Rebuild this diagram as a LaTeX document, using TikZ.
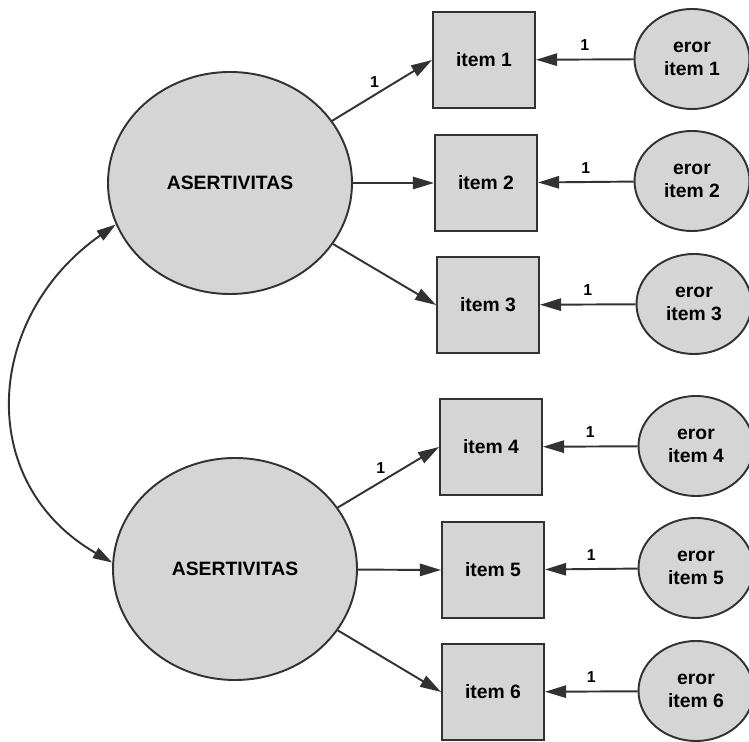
\documentclass[tikz,border=0pt]{standalone}
\usepackage{fontspec}
\setmainfont{Liberation Sans}
\usetikzlibrary{arrows.meta,shapes.geometric}
\definecolor{nodefill}{RGB}{213,213,213}
\definecolor{linecol}{RGB}{50,50,50}
\tikzset{
  latent/.style={ellipse,draw=linecol,fill=nodefill,line width=1.1pt,minimum width=4.88cm,minimum height=4.44cm,font=\bfseries\fontsize{11}{13}\selectfont},
  itembox/.style={rectangle,draw=linecol,fill=nodefill,line width=1.1pt,minimum width=2.04cm,minimum height=1.92cm,font=\bfseries\fontsize{11}{13}\selectfont},
  erorcirc/.style={ellipse,draw=linecol,fill=nodefill,line width=1.1pt,minimum width=2.3cm,minimum height=2cm,inner sep=0pt,align=center,font=\bfseries\fontsize{11}{13.5}\selectfont},
  path/.style={draw=linecol,line width=1.1pt,-{Triangle[length=12pt,width=7pt]}},
  one/.style={font=\bfseries\fontsize{9}{10}\selectfont}
}
\begin{document}
\begin{tikzpicture}
	    \useasboundingbox (0,0) rectangle (14.98,14.84);
	    \node[latent] (asert1) at (4.60,11.18) {ASERTIVITAS};
	    \node[latent] (asert2) at (4.70,3.46) {ASERTIVITAS};
	    \node[itembox] (item1) at (9.68,13.64) {item 1};
	    \node[itembox] (item2) at (9.72,11.18) {item 2};
	    \node[itembox] (item3) at (9.76,8.74) {item 3};
	    \node[itembox] (item4) at (9.82,5.90) {item 4};
	    \node[itembox] (item5) at (9.86,3.44) {item 5};
	    \node[itembox] (item6) at (9.86,1.00) {item 6};
	    \node[erorcirc] (eror1) at (13.84,13.66) {eror\\item 1};
	    \node[erorcirc] (eror2) at (13.84,11.22) {eror\\item 2};
	    \node[erorcirc] (eror3) at (13.88,8.76) {eror\\item 3};
	    \node[erorcirc] (eror4) at (13.92,5.92) {eror\\item 4};
	    \node[erorcirc] (eror5) at (13.92,3.48) {eror\\item 5};
	    \node[erorcirc] (eror6) at (13.92,1.02) {eror\\item 6};
	    % loadings
	    \draw[path] (asert1) -- node[one,pos=.5,above left=-2pt]{1} (item1.west);
	    \draw[path] (asert1) -- (item2.west);
	    \draw[path] (asert1) -- (item3.west);
	    \draw[path] (asert2) -- node[one,pos=.5,above left=-2pt]{1} (item4.west);
	    \draw[path] (asert2) -- (item5.west);
	    \draw[path] (asert2) -- (item6.west);
	    % errors
	    \draw[path] (eror1) -- node[one,midway,above=1pt]{1} (item1);
	    \draw[path] (eror2) -- node[one,midway,above=1pt]{1} (item2);
	    \draw[path] (eror3) -- node[one,midway,above=1pt]{1} (item3);
	    \draw[path] (eror4) -- node[one,midway,above=1pt]{1} (item4);
	    \draw[path] (eror5) -- node[one,midway,above=1pt]{1} (item5);
	    \draw[path] (eror6) -- node[one,midway,above=1pt]{1} (item6);
	    % covariance
	    \draw[draw=linecol,line width=1.1pt,{Triangle[length=11pt,width=6.5pt]}-{Triangle[length=11pt,width=6.5pt]}]
	        (asert1.200) .. controls +(215:3.2) and +(150:3.2) .. (asert2.177);
	\end{tikzpicture}
\end{document}
